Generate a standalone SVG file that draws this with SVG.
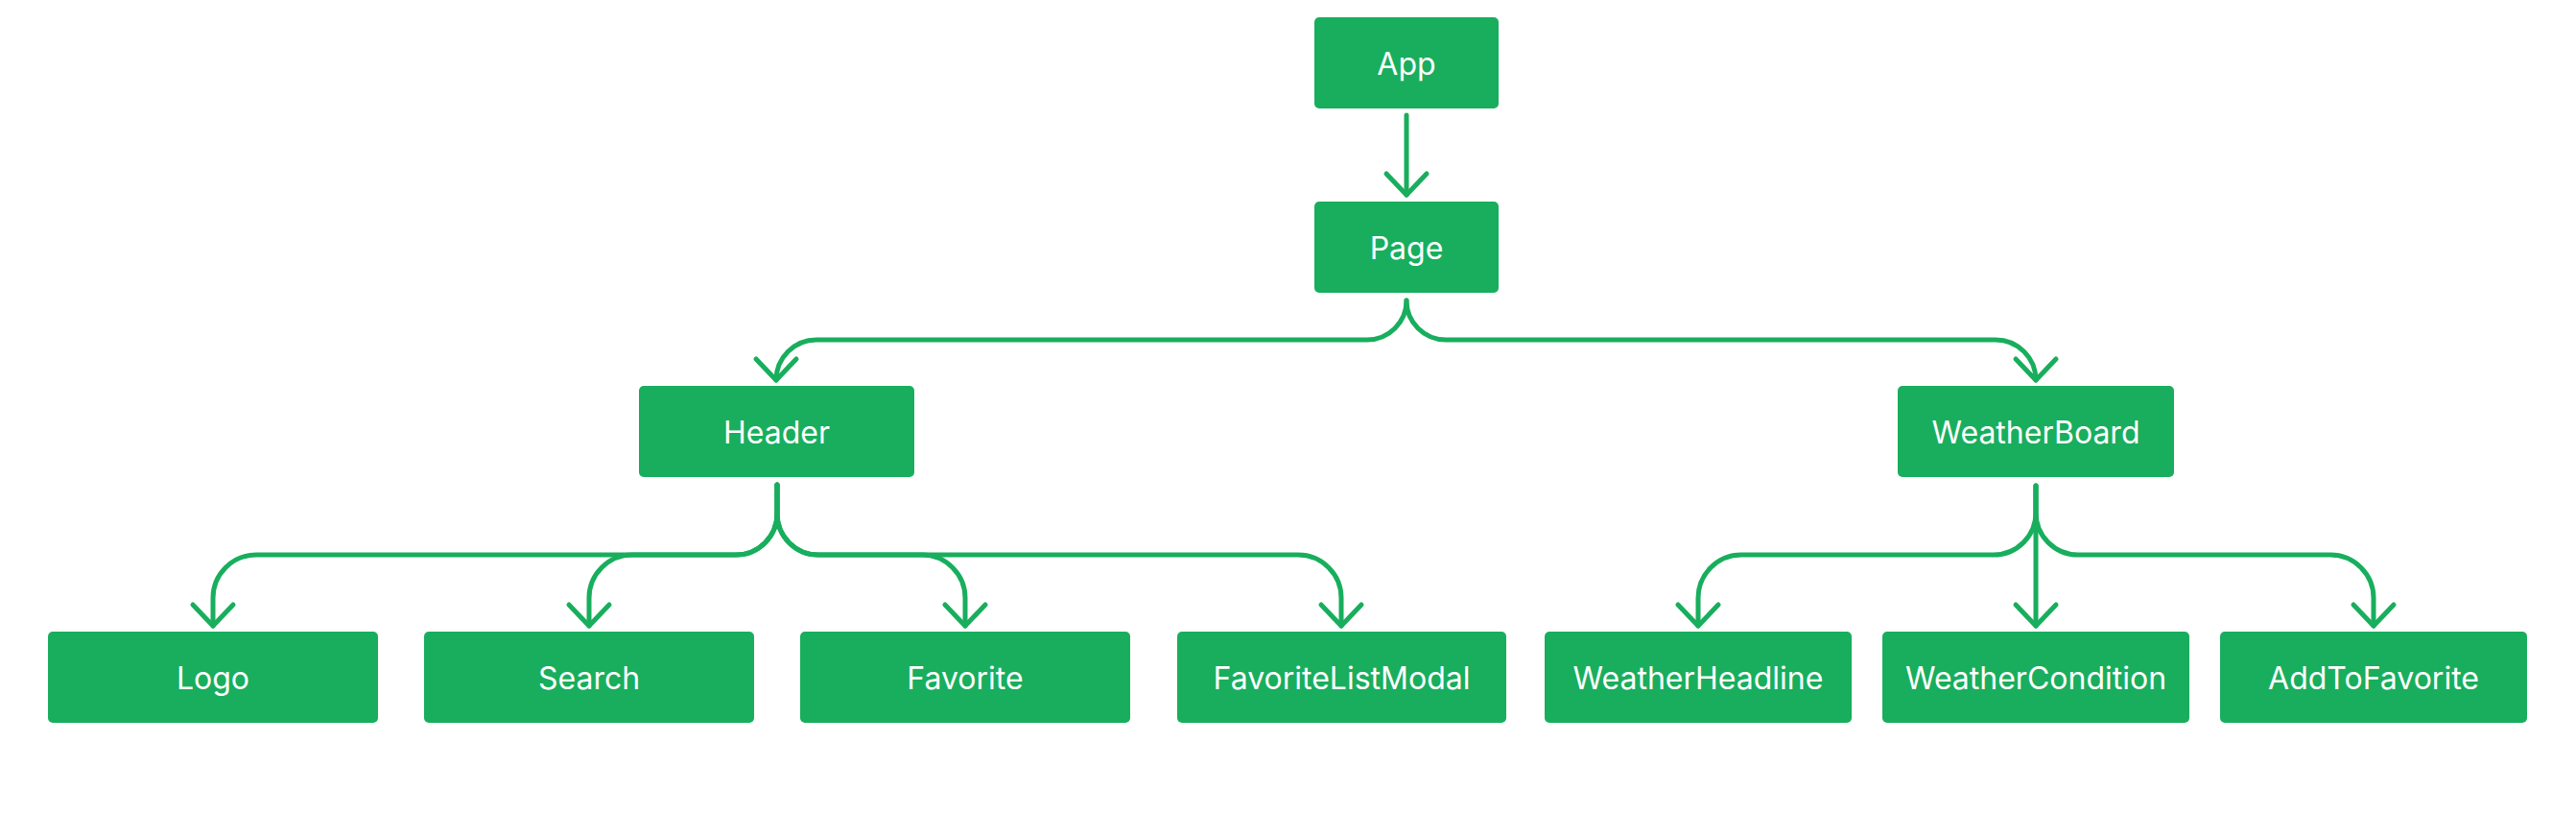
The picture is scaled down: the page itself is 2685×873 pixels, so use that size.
<svg xmlns="http://www.w3.org/2000/svg" width="2685" height="873" viewBox="0 0 2685 873">
<style>
.box{fill:#18AE5D}
.lbl{font-family:Inter,"Liberation Sans",sans-serif;font-size:32px;fill:#ffffff;text-anchor:middle}
.edge{fill:none;stroke:#18AE5D;stroke-width:5;stroke-linecap:round;stroke-linejoin:round}
</style>
<defs>
<marker id="chev" markerUnits="userSpaceOnUse" markerWidth="60" markerHeight="60" refX="0" refY="0" orient="auto" overflow="visible">
<path d="M-22,-21 L0,0 L-22,21" fill="none" stroke="#18AE5D" stroke-width="5" stroke-linecap="round" stroke-linejoin="round"/>
</marker>
</defs>
<rect width="2685" height="873" fill="#ffffff"/>
<g id="connectors">
<path class="edge" marker-end="url(#chev)" d="M1466,120 V203"/>
<path class="edge" marker-end="url(#chev)" d="M1466,313 A41,41 0 0 1 1425,354 H851 A42,42 0 0 0 809,396"/>
<path class="edge" marker-end="url(#chev)" d="M1466,313 A41,41 0 0 0 1507,354 H2080 A42,42 0 0 1 2122,396"/>
<path class="edge" marker-end="url(#chev)" d="M810,505 V535 A43,43 0 0 1 767,578 H267 A45,45 0 0 0 222,623 V652"/>
<path class="edge" marker-end="url(#chev)" d="M810,505 V535 A43,43 0 0 1 767,578 H659 A45,45 0 0 0 614,623 V652"/>
<path class="edge" marker-end="url(#chev)" d="M810,505 V535 A43,43 0 0 0 853,578 H961 A45,45 0 0 1 1006,623 V652"/>
<path class="edge" marker-end="url(#chev)" d="M810,505 V535 A43,43 0 0 0 853,578 H1353 A45,45 0 0 1 1398,623 V652"/>
<path class="edge" marker-end="url(#chev)" d="M2122,506 V534 A44,44 0 0 1 2078,578 H1815 A45,45 0 0 0 1770,623 V652"/>
<path class="edge" marker-end="url(#chev)" d="M2122,506 V652"/>
<path class="edge" marker-end="url(#chev)" d="M2122,506 V534 A44,44 0 0 0 2166,578 H2429 A45,45 0 0 1 2474,623 V652"/>
</g>
<g id="app"><rect class="box" x="1370" y="18" width="192" height="95" rx="5"/><text class="lbl" x="1466" y="78">App</text></g>
<g id="page"><rect class="box" x="1370" y="210" width="192" height="95" rx="5"/><text class="lbl" x="1466" y="270">Page</text></g>
<g id="header"><rect class="box" x="666" y="402" width="287" height="95" rx="5"/><text class="lbl" x="809.5" y="462">Header</text></g>
<g id="weatherboard"><rect class="box" x="1978" y="402" width="288" height="95" rx="5"/><text class="lbl" x="2122" y="462">WeatherBoard</text></g>
<g id="logo"><rect class="box" x="50" y="658" width="344" height="95" rx="5"/><text class="lbl" x="222" y="718">Logo</text></g>
<g id="search"><rect class="box" x="442" y="658" width="344" height="95" rx="5"/><text class="lbl" x="614" y="718">Search</text></g>
<g id="favorite"><rect class="box" x="834" y="658" width="344" height="95" rx="5"/><text class="lbl" x="1006" y="718">Favorite</text></g>
<g id="favoritelistmodal"><rect class="box" x="1227" y="658" width="343" height="95" rx="5"/><text class="lbl" x="1398.5" y="718">FavoriteListModal</text></g>
<g id="weatherheadline"><rect class="box" x="1610" y="658" width="320" height="95" rx="5"/><text class="lbl" x="1770" y="718">WeatherHeadline</text></g>
<g id="weathercondition"><rect class="box" x="1962" y="658" width="320" height="95" rx="5"/><text class="lbl" x="2122" y="718">WeatherCondition</text></g>
<g id="addtofavorite"><rect class="box" x="2314" y="658" width="320" height="95" rx="5"/><text class="lbl" x="2474" y="718">AddToFavorite</text></g>
</svg>
